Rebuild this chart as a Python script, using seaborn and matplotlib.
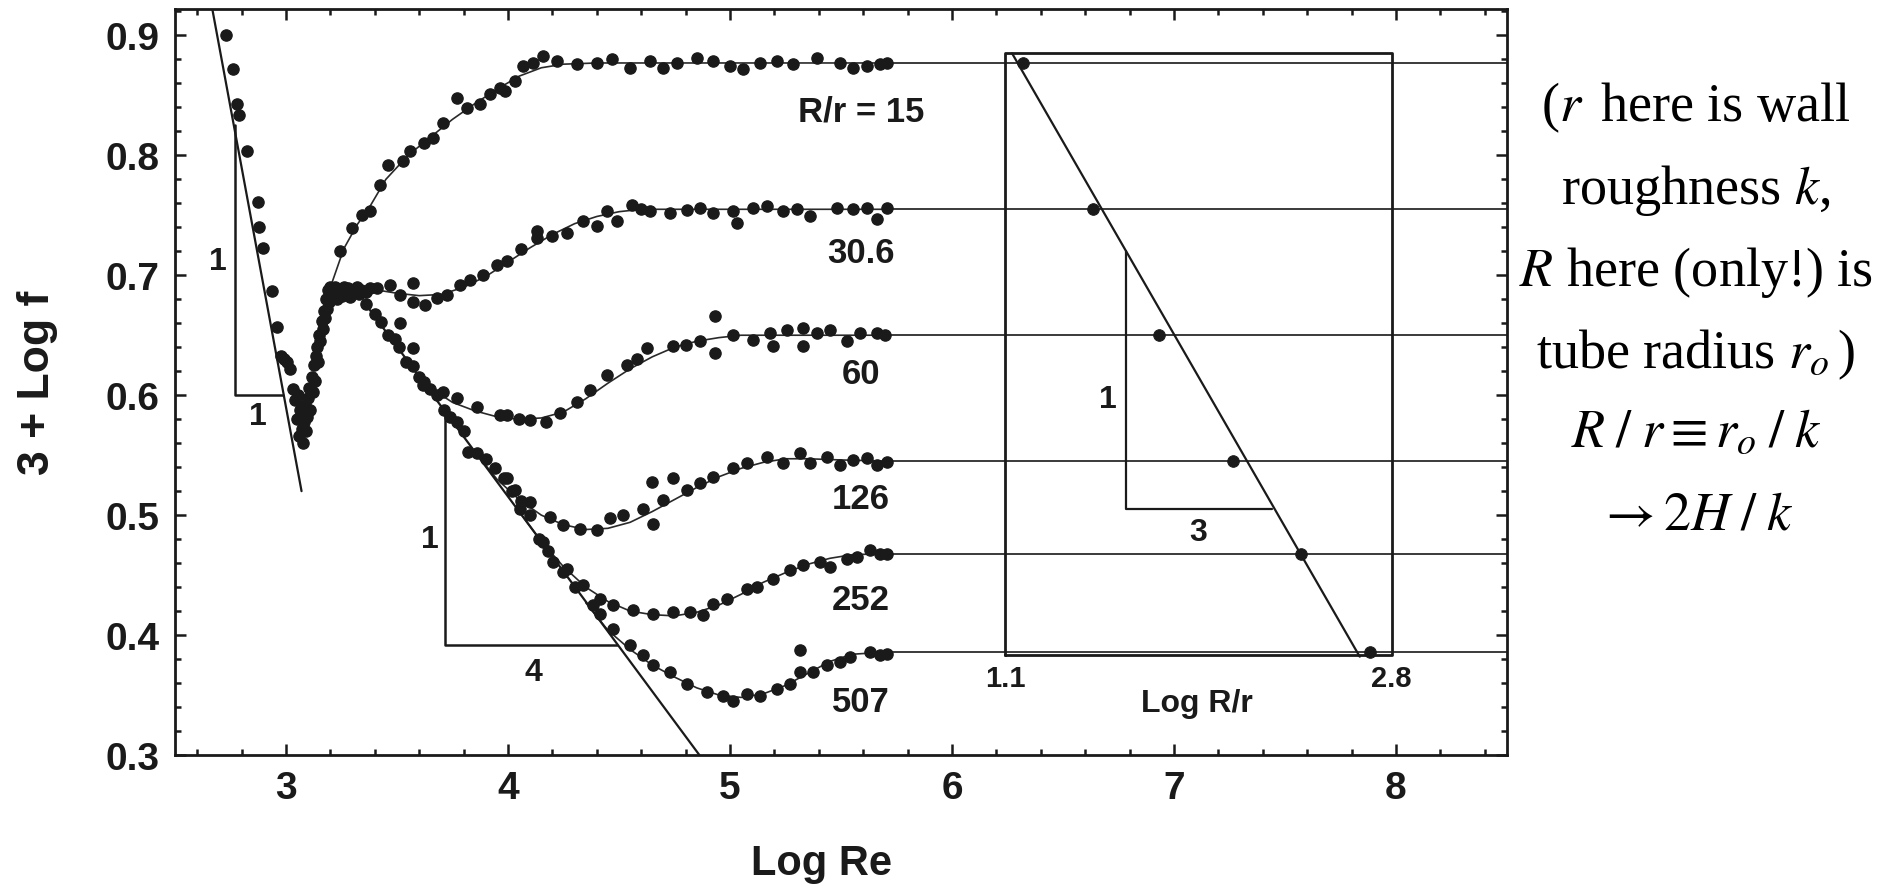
import numpy as np
import pandas as pd
import seaborn as sns
import matplotlib
matplotlib.use("Agg")
import matplotlib.pyplot as plt
from matplotlib.ticker import MultipleLocator, FixedLocator

# roughness ratios R/r and their fully-rough plateau values of 3 + log f
ratios = [15, 30.6, 60, 126, 252, 507]
ratio_labels = ['R/r = 15', '30.6', '60', '126', '252', '507']
plateau = [0.877, 0.755, 0.650, 0.545, 0.468, 0.386]

# laminar branch points
lam_x = [2.730, 2.763, 2.779, 2.788, 2.824, 2.874, 2.878, 2.896, 2.937, 2.959, 2.978, 2.990, 3.005, 3.018]
lam_y = [0.900, 0.872, 0.843, 0.834, 0.804, 0.761, 0.740, 0.723, 0.687, 0.657, 0.633, 0.630, 0.628, 0.622]

# transition cluster
tr_x = [3.03, 3.04, 3.05, 3.055, 3.06, 3.065, 3.07, 3.075, 3.08, 3.085,
        3.09, 3.095, 3.10, 3.105, 3.11, 3.115, 3.12, 3.125, 3.13, 3.135,
        3.14, 3.145, 3.15, 3.155, 3.16, 3.165, 3.17, 3.175, 3.18, 3.185,
        3.19, 3.195, 3.20, 3.21, 3.22, 3.23, 3.24, 3.25, 3.26, 3.27,
        3.28, 3.29, 3.30, 3.31, 3.32, 3.33, 3.34, 3.36, 3.38]
tr_y = [0.605, 0.596, 0.580, 0.600, 0.566, 0.588, 0.572, 0.560, 0.578, 0.592,
        0.570, 0.582, 0.598, 0.606, 0.588, 0.615, 0.603, 0.625, 0.612, 0.633,
        0.640, 0.628, 0.650, 0.645, 0.662, 0.655, 0.670, 0.664, 0.680, 0.672,
        0.688, 0.678, 0.690, 0.684, 0.690, 0.680, 0.688, 0.683, 0.690, 0.685,
        0.689, 0.682, 0.687, 0.686, 0.690, 0.684, 0.688, 0.686, 0.689]

# measured points per roughness
pts15_x = [3.243, 3.296, 3.341, 3.378, 3.423, 3.461, 3.528, 3.559, 3.62, 3.664, 3.709, 3.769, 3.814, 3.874,
           3.919, 3.964, 3.986, 4.032, 4.069, 4.114, 4.159, 4.219, 4.309, 4.40, 4.47, 4.55, 4.64, 4.70,
           4.76, 4.85, 4.925, 5.0, 5.06, 5.135, 5.21, 5.285, 5.39, 5.495, 5.556, 5.616, 5.676, 5.706]
pts15_y = [0.720, 0.739, 0.7506, 0.7533, 0.7756, 0.7923, 0.795, 0.8035, 0.810, 0.8146, 0.827, 0.848, 0.8397, 0.8425,
           0.851, 0.8564, 0.8536, 0.862, 0.8745, 0.8773, 0.883, 0.8786, 0.876, 0.877, 0.880, 0.873, 0.8787, 0.873,
           0.877, 0.8815, 0.8786, 0.8745, 0.8717, 0.877, 0.8786, 0.876, 0.8815, 0.877, 0.873, 0.8745, 0.876, 0.877]

pts30_x = [3.409, 3.468, 3.514, 3.573, 3.573, 3.626, 3.679, 3.724, 3.784, 3.829, 3.889, 3.949, 3.994, 4.06,
           4.129, 4.129, 4.20, 4.264, 4.339, 4.40, 4.445, 4.49, 4.557, 4.60, 4.64, 4.73, 4.805, 4.865,
           4.925, 5.015, 5.03, 5.105, 5.165, 5.24, 5.30, 5.36, 5.48, 5.556, 5.616, 5.661, 5.706]
pts30_y = [0.6893, 0.692, 0.6837, 0.6935, 0.678, 0.6754, 0.681, 0.6837, 0.692, 0.6962, 0.7004, 0.7088, 0.7116, 0.722,
           0.731, 0.7367, 0.733, 0.7353, 0.745, 0.741, 0.7533, 0.745, 0.7589, 0.755, 0.7533, 0.752, 0.7547, 0.7562,
           0.752, 0.7533, 0.7437, 0.7562, 0.7576, 0.7533, 0.755, 0.749, 0.7562, 0.7556, 0.7562, 0.7465, 0.7562]

pts60_x = [3.514, 3.573, 3.618, 3.709, 3.769, 3.859, 3.964, 3.994, 4.05, 4.099, 4.17, 4.234, 4.309, 4.369,
           4.445, 4.535, 4.58, 4.625, 4.745, 4.80, 4.865, 4.932, 4.932, 5.015, 5.105, 5.18, 5.195, 5.255,
           5.33, 5.33, 5.39, 5.45, 5.526, 5.586, 5.661, 5.70]
pts60_y = [0.660, 0.6392, 0.6085, 0.603, 0.5974, 0.5905, 0.5835, 0.5835, 0.580, 0.5793, 0.578, 0.5849, 0.5947, 0.6044,
           0.617, 0.6253, 0.630, 0.6392, 0.6406, 0.642, 0.6448, 0.6657, 0.635, 0.6504, 0.6462, 0.6518, 0.6406, 0.6546,
           0.656, 0.6406, 0.6518, 0.6546, 0.6448, 0.6518, 0.6518, 0.650]

pts126_x = [3.994, 4.032, 4.099, 4.189, 4.249, 4.324, 4.40, 4.459, 4.519, 4.61, 4.647, 4.655, 4.70, 4.745,
            4.805, 4.865, 4.925, 5.015, 5.075, 5.165, 5.24, 5.315, 5.36, 5.435, 5.495, 5.556, 5.616, 5.661, 5.706]
pts126_y = [0.5306, 0.5208, 0.5111, 0.4986, 0.4916, 0.4888, 0.4874, 0.4972, 0.500, 0.5055, 0.5278, 0.493, 0.5124, 0.5306,
            0.5208, 0.5264, 0.532, 0.5389, 0.5431, 0.5487, 0.5431, 0.5515, 0.5431, 0.5487, 0.5417, 0.5459, 0.5473, 0.5417, 0.5445]

pts252_x = [4.054, 4.159, 4.204, 4.264, 4.339, 4.414, 4.474, 4.564, 4.655, 4.745, 4.82, 4.88, 4.925,
            4.985, 5.075, 5.12, 5.195, 5.27, 5.33, 5.405, 5.45, 5.526, 5.571, 5.63, 5.676, 5.706]
pts252_y = [0.5055, 0.4777, 0.461, 0.4554, 0.4414, 0.4303, 0.4247, 0.4205, 0.4178, 0.4192, 0.4192, 0.4164, 0.4262,
            0.4303, 0.4387, 0.440, 0.447, 0.454, 0.4582, 0.461, 0.4568, 0.4637, 0.4651, 0.4707, 0.4679, 0.4679]

pts507_x = [3.36, 3.40, 3.43, 3.46, 3.49, 3.51, 3.54, 3.57, 3.60, 3.62, 3.65, 3.68, 3.71, 3.74, 3.77, 3.80,
            3.82, 3.86, 3.90, 3.94, 3.98, 4.02, 4.06, 4.10, 4.14, 4.18, 4.249, 4.30, 4.384, 4.414, 4.474, 4.55,
            4.61, 4.655, 4.73, 4.805, 4.895, 4.97, 5.015, 5.075, 5.135, 5.21, 5.27, 5.315, 5.315, 5.375, 5.435,
            5.495, 5.54, 5.63, 5.676, 5.706]
pts507_y = [0.676, 0.668, 0.661, 0.650, 0.647, 0.640, 0.628, 0.624, 0.615, 0.611, 0.605, 0.600, 0.588, 0.582, 0.578, 0.570,
            0.553, 0.552, 0.547, 0.539, 0.531, 0.520, 0.512, 0.500, 0.480, 0.470, 0.4526, 0.440, 0.4247, 0.4178, 0.4053, 0.3914,
            0.383, 0.3747, 0.3691, 0.3594, 0.3524, 0.3496, 0.3454, 0.351, 0.3496, 0.3552, 0.3594, 0.3691, 0.3872, 0.3691, 0.3747,
            0.3775, 0.3817, 0.3858, 0.383, 0.3844]

# smooth fitted curves
fit15_x = [3.20, 3.26, 3.32, 3.38, 3.45, 3.55, 3.65, 3.75, 3.85, 3.95, 4.05, 4.15, 4.25, 4.40, 5.72]
fit15_y = [0.690, 0.722, 0.742, 0.758, 0.780, 0.800, 0.815, 0.830, 0.843, 0.855, 0.866, 0.873, 0.876, 0.877, 0.877]
fit30_x = [3.40, 3.50, 3.60, 3.70, 3.80, 3.90, 4.00, 4.10, 4.20, 4.30, 4.40, 4.50, 4.60, 4.70, 5.72]
fit30_y = [0.688, 0.685, 0.683, 0.684, 0.690, 0.699, 0.711, 0.723, 0.734, 0.743, 0.749, 0.753, 0.755, 0.755, 0.755]
fit60_x = [3.55, 3.65, 3.75, 3.85, 3.95, 4.05, 4.15, 4.25, 4.35, 4.45, 4.55, 4.65, 4.75, 4.85, 4.95, 5.05, 5.72]
fit60_y = [0.627, 0.606, 0.594, 0.587, 0.582, 0.580, 0.581, 0.586, 0.597, 0.610, 0.622, 0.632, 0.640, 0.645, 0.648, 0.650, 0.650]
fit126_x = [3.85, 3.95, 4.05, 4.15, 4.25, 4.35, 4.45, 4.55, 4.65, 4.75, 4.85, 4.95, 5.05, 5.15, 5.25, 5.35, 5.50, 5.72]
fit126_y = [0.553, 0.530, 0.513, 0.500, 0.492, 0.488, 0.489, 0.494, 0.503, 0.513, 0.523, 0.532, 0.539, 0.544, 0.547, 0.547, 0.546, 0.545]
fit252_x = [4.05, 4.15, 4.25, 4.35, 4.45, 4.55, 4.65, 4.75, 4.85, 4.95, 5.05, 5.15, 5.25, 5.35, 5.45, 5.55, 5.72]
fit252_y = [0.503, 0.478, 0.457, 0.440, 0.428, 0.420, 0.417, 0.416, 0.419, 0.425, 0.434, 0.444, 0.452, 0.459, 0.464, 0.467, 0.468]
fit507_x = [4.35, 4.45, 4.55, 4.65, 4.75, 4.85, 4.95, 5.05, 5.15, 5.25, 5.35, 5.45, 5.55, 5.72]
fit507_y = [0.427, 0.404, 0.388, 0.375, 0.365, 0.356, 0.350, 0.348, 0.351, 0.358, 0.368, 0.378, 0.384, 0.386]

# asymptotes (laminar slope -1, smooth turbulent slope -1/4) and slope triangles
lam_line_x = [2.66, 3.07]
lam_line_y = [0.93, 0.52]
blas_line_x = [3.35, 4.87]
blas_line_y = [0.678, 0.298]
tri_lam_x = [2.77, 2.77, 2.985]
tri_lam_y = [0.8255, 0.60, 0.60]
tri_blas_x = [3.715, 3.715, 4.49]
tri_blas_y = [0.589, 0.392, 0.392]

# inset: plateau vs log R/r (slope -1/3)
inset_L_range = [1.1, 2.8]
inset_y_range = [0.383, 0.885]
inset_line_L = [1.13, 2.66]
inset_line_y = [0.885, 0.382]
inset_tri_L = [1.63, 1.63, 2.275]
inset_tri_y = [0.720, 0.505, 0.505]

x_ticks = [3, 4, 5, 6, 7, 8]
y_ticks = [0.3, 0.4, 0.5, 0.6, 0.7, 0.8, 0.9]

sns.set_theme(style='ticks')
plt.rcParams['font.family'] = ['Liberation Sans', 'DejaVu Sans']
plt.rcParams['mathtext.fontset'] = 'stix'

ink = '#1a1a1a'
bold = dict(fontweight='bold', color=ink)

fig = plt.figure(figsize=(18.92, 8.87), dpi=100)
ax = fig.add_axes([175 / 1892, 131 / 887, 1332 / 1892, 746 / 887])

# scatter of all measured points
frames = [pd.DataFrame({'logRe': lam_x, 'f': lam_y}), pd.DataFrame({'logRe': tr_x, 'f': tr_y})]
for px, py in [(pts15_x, pts15_y), (pts30_x, pts30_y), (pts60_x, pts60_y),
               (pts126_x, pts126_y), (pts252_x, pts252_y), (pts507_x, pts507_y)]:
    frames.append(pd.DataFrame({'logRe': px, 'f': py}))
pts = pd.concat(frames, ignore_index=True)
sns.scatterplot(data=pts, x='logRe', y='f', ax=ax, color=ink, s=66, edgecolor=ink,
                linewidth=0.9, marker='o', legend=False, zorder=3)

# fitted curves plus their horizontal continuation
fits = [(fit15_x, fit15_y), (fit30_x, fit30_y), (fit60_x, fit60_y),
        (fit126_x, fit126_y), (fit252_x, fit252_y), (fit507_x, fit507_y)]
for (fx, fy), p in zip(fits, plateau):
    sns.lineplot(x=fx, y=fy, ax=ax, sort=False, estimator=None, color='#2a2a2a', linewidth=1.2, zorder=2)
    ax.plot([fx[-1], 8.5], [p, p], color='#3a3a3a', linewidth=1.4, zorder=1)

# asymptotes and slope triangles
for lx, ly in [(lam_line_x, lam_line_y), (blas_line_x, blas_line_y)]:
    ax.plot(lx, ly, color=ink, linewidth=1.6, zorder=2)
for lx, ly in [(tri_lam_x, tri_lam_y), (tri_blas_x, tri_blas_y)]:
    ax.plot(lx, ly, color=ink, linewidth=1.8, zorder=2)

ax.text(2.693, 0.712, '1', fontsize=23, ha='center', va='center', **bold)
ax.text(2.874, 0.583, '1', fontsize=23, ha='center', va='center', **bold)
ax.text(3.649, 0.480, '1', fontsize=23, ha='center', va='center', **bold)
ax.text(4.114, 0.369, '4', fontsize=23, ha='center', va='center', **bold)

# series labels
label_y = [0.837, 0.719, 0.618, 0.514, 0.430, 0.345]
for lab, ly in zip(ratio_labels, label_y):
    ax.text(5.59, ly, lab, fontsize=25, ha='center', va='center', **bold)

# inset drawn inside the main axes: log R/r mapped onto 6.24..7.98
ix0, ix1 = 6.24, 7.98


def to_main(L):
    L = np.asarray(L, dtype=float)
    return ix0 + (L - inset_L_range[0]) * (ix1 - ix0) / (inset_L_range[1] - inset_L_range[0])


bx = to_main(inset_L_range)
ax.plot([bx[0], bx[1], bx[1], bx[0], bx[0]],
        [inset_y_range[0], inset_y_range[0], inset_y_range[1], inset_y_range[1], inset_y_range[0]],
        color=ink, linewidth=2.0, zorder=2)
ax.plot(to_main(inset_line_L), inset_line_y, color=ink, linewidth=1.6, zorder=2)
ax.plot(to_main(inset_tri_L), inset_tri_y, color=ink, linewidth=1.6, zorder=2)
sns.scatterplot(x=to_main(np.log10(ratios)), y=plateau, ax=ax, color=ink, s=70,
                edgecolor=ink, legend=False, zorder=4)
ax.text(6.703, 0.597, '1', fontsize=23, ha='center', va='center', **bold)
ax.text(7.107, 0.486, '3', fontsize=23, ha='center', va='center', **bold)
ax.text(bx[0], 0.364, '1.1', fontsize=21, ha='center', va='center', **bold)
ax.text(bx[1], 0.364, '2.8', fontsize=21, ha='center', va='center', **bold)
ax.text(7.103, 0.343, 'Log R/r', fontsize=23, ha='center', va='center', **bold)

# axes styling
ax.set_xlim(2.5, 8.5)
ax.set_ylim(0.3, 0.922)
ax.xaxis.set_major_locator(FixedLocator(x_ticks))
ax.yaxis.set_major_locator(FixedLocator(y_ticks))
ax.xaxis.set_minor_locator(MultipleLocator(0.2))
ax.yaxis.set_minor_locator(MultipleLocator(0.02))
ax.set_xticklabels([str(t) for t in x_ticks], fontweight='bold')
ax.set_yticklabels(['%.1f' % t for t in y_ticks], fontweight='bold')
ax.tick_params(which='both', direction='in', top=True, right=True, color=ink, width=1.8)
ax.tick_params(which='major', length=8, labelsize=28, pad=11, labelcolor=ink)
ax.tick_params(which='minor', length=4.5)
for sp in ax.spines.values():
    sp.set_linewidth(2.0)
    sp.set_color(ink)

ax.set_xlabel('Log Re', fontsize=30, **bold)
ax.set_ylabel('3 + Log f', fontsize=32, **bold)
ax.xaxis.set_label_coords(0.485, -0.118)
ax.yaxis.set_label_coords(-0.088, 0.5)

# explanatory note to the right
note = [r'($r\,$ here is wall', 'roughness $k$,', '$R$ here (only!) is',
        r'tube radius $r_o\,$)', r'$R\;/\;r \equiv r_o\;/\;k$', r'$\rightarrow 2H\;/\;k$']
note_y = [108, 190, 273, 355, 434, 516]
for line, ny in zip(note, note_y):
    fig.text(1696 / 1892, 1 - ny / 887, line, fontsize=39, ha='center', va='center',
             family='Liberation Serif', fontweight='normal', color='black')

fig.savefig('out.png', dpi=100, facecolor='white')
